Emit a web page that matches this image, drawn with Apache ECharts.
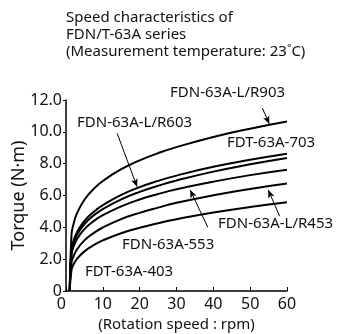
<!DOCTYPE html>
<html>
<head>
<meta charset="utf-8">
<script src="https://cdn.jsdelivr.net/npm/echarts@6/dist/echarts.min.js"></script>
<style>
  html, body { margin: 0; padding: 0; background: #fff; }
  #chart { width: 345px; height: 334px; }
</style>
</head>
<body>
<div id="chart"></div>
<script>
// rotation speed (rpm) sample points
const rpm = [1, 1.5, 2, 3, 5, 7.5, 10, 15, 20, 25, 30, 40, 50, 60]

// torque (N·m)
const r903 = [0, 3.56, 4.16, 4.89, 5.73, 6.41, 6.91, 7.65, 8.21, 8.66, 9.04, 9.68, 10.20, 10.65]
const t703 = [0, 2.61, 3.11, 3.70, 4.40, 4.97, 5.39, 6.04, 6.53, 6.92, 7.25, 7.80, 8.24, 8.62]
const r603 = [0, 2.50, 2.98, 3.54, 4.21, 4.75, 5.15, 5.76, 6.23, 6.61, 6.94, 7.50, 7.96, 8.36]
const n553 = [0, 2.31, 2.75, 3.27, 3.89, 4.39, 4.76, 5.32, 5.75, 6.09, 6.39, 6.87, 7.28, 7.62]
const r453 = [0, 1.78, 2.15, 2.62, 3.18, 3.64, 3.99, 4.52, 4.91, 5.24, 5.54, 6.01, 6.41, 6.75]
const t403 = [0, 1.33, 1.64, 2.02, 2.49, 2.88, 3.18, 3.63, 3.97, 4.26, 4.51, 4.93, 5.28, 5.58]

const curves = [r903, t703, r603, n553, r453, t403]

// leader arrows [from, to] in data coords
const arrows = [
  [[53.3, 11.5], [55.2, 10.5]],
  [[13.9, 9.9], [19.3, 6.55]],
  [[38.5, 4.0], [33.7, 6.35]],
  [[58.0, 4.7], [54.9, 6.35]],
]

const font = "'Noto Sans', sans-serif"
const chart = echarts.init(document.getElementById("chart"))

const series = curves.map((vals, k) => ({
  type: "line",
  smooth: true,
  showSymbol: false,
  silent: true,
  data: rpm.map((r, i) => [r, vals[i]]),
  lineStyle: { color: "#000", width: 2 },
  markLine: k === 0 ? {
    silent: true,
    symbol: ["none", "arrow"],
    symbolSize: [5, 8],
    label: { show: false },
    lineStyle: { color: "#000", width: 1, type: "solid" },
    data: arrows.map((a) => [{ coord: a[0] }, { coord: a[1] }]),
  } : undefined,
}))

const labels = [
  { text: "FDN-63A-L/R903", x: 170, y: 93 },
  { text: "FDN-63A-L/R603", x: 77, y: 123 },
  { text: "FDT-63A-703", x: 227, y: 143 },
  { text: "FDN-63A-L/R453", x: 218, y: 224 },
  { text: "FDN-63A-553", x: 122, y: 245 },
  { text: "FDT-63A-403", x: 85, y: 272 },
]

chart.setOption({
  animation: false,
  grid: { left: 66, right: 58, top: 100, bottom: 43, containLabel: false, outerBoundsMode: "none" },
  xAxis: {
    type: "value",
    min: 0,
    max: 60,
    interval: 10,
    name: "(Rotation speed : rpm)",
    nameLocation: "middle",
    nameGap: 26,
    nameMoveOverlap: false,
    nameTextStyle: { color: "#111", fontSize: 15, fontFamily: font },
    axisLine: { lineStyle: { color: "#000", width: 1.5 } },
    axisTick: { inside: true, length: 4, lineStyle: { color: "#000" } },
    splitLine: { show: false },
    axisLabel: {
      color: "#111",
      fontSize: 16,
      fontFamily: font,
      margin: 5,
      alignMinLabel: "right",
    },
  },
  yAxis: {
    type: "value",
    min: 0,
    max: 12,
    interval: 2,
    name: "Torque (N·m)",
    nameLocation: "middle",
    nameGap: 38,
    nameMoveOverlap: false,
    nameTextStyle: { color: "#111", fontSize: 18, fontFamily: font },
    axisLine: { show: true, lineStyle: { color: "#000", width: 1.5 } },
    axisTick: { show: true, length: 3, lineStyle: { color: "#000" } },
    splitLine: { show: false },
    axisLabel: {
      color: "#111",
      fontSize: 16,
      fontFamily: font,
      margin: 4,
      formatter: (v) => (v === 0 ? "0" : v.toFixed(1)),
    },
  },
  graphic: [
    {
      type: "text",
      left: 66,
      top: 9,
      style: {
        text: "Speed characteristics of\nFDN/T-63A series\n(Measurement temperature: 23˚C)",
        font: "15px " + font,
        lineHeight: 17,
        fill: "#111",
      },
    },
    ...labels.map((l) => ({
      type: "text",
      x: l.x,
      y: l.y,
      style: { text: l.text, font: "15px " + font, fill: "#111", verticalAlign: "middle" },
    })),
  ],
  series,
})
</script>
</body>
</html>
